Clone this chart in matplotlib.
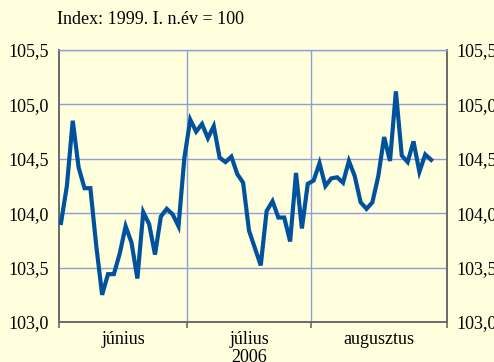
import numpy as np
from matplotlib import pyplot as plt

# daily index values, June-August 2006 (business days)
jun = [103.91, 104.25, 104.85, 104.42, 104.23, 104.23, 103.70, 103.25, 103.44, 103.44,
       103.63, 103.88, 103.73, 103.40, 104.01, 103.90, 103.62, 103.97, 104.04, 103.99,
       103.88, 104.51]
jul = [104.86, 104.75, 104.82, 104.69, 104.80, 104.51, 104.47, 104.52, 104.36, 104.28,
       103.84, 103.68, 103.52, 104.02, 104.11, 103.96, 103.96, 103.74, 104.37, 103.86,
       104.27]
aug = [104.30, 104.46, 104.25, 104.32, 104.33, 104.28, 104.48, 104.34, 104.10, 104.04,
       104.10, 104.34, 104.70, 104.48, 105.12, 104.53, 104.47, 104.66, 104.38, 104.54,
       104.49]
months = ["június", "július", "augusztus"]
year = "2006"
yticks = [103.0, 103.5, 104.0, 104.5, 105.0, 105.5]
ytick_labels = ["103,0", "103,5", "104,0", "104,5", "105,0", "105,5"]

values = np.array(jun + jul + aug)
x = np.arange(len(values))
bounds = [-0.34, len(jun) - 0.5, len(jun) + len(jul) - 0.5, 65.7]

bg = "#ffffde"
grid_c = "#8e9fd6"
axis_c = "#6a6a6a"
fs = 13
plt.rcParams['font.family'] = ['Liberation Serif', 'DejaVu Serif']

fig = plt.figure(figsize=(4.94, 3.62), dpi=100, facecolor=bg)
ax = fig.add_axes([59/494, 1 - 322/362, (447 - 59)/494, (322 - 50)/362])
ax.set_facecolor(bg)

for yv in yticks[1:]:
    ax.axhline(yv, color=grid_c, lw=1.0, zorder=1)
for b in bounds[1:3]:
    ax.axvline(b, color=grid_c, lw=1.0, zorder=1)

ax.plot(x, values, color="#00529c", lw=3.0, solid_joinstyle="miter", zorder=3)

ax.set_xlim(bounds[0], bounds[-1])
ax.set_ylim(103.0, 105.5)
ax.set_yticks(yticks)
ax.set_yticklabels(ytick_labels)
ax.tick_params(axis="y", length=0, pad=7, labelsize=fs, labelright=True, right=False)
ax.set_xticks(bounds)
ax.set_xticklabels([])
ax.tick_params(axis="x", length=4, width=1.2, color=axis_c, direction="out")

ax.spines["top"].set_color(grid_c)
ax.spines["top"].set_linewidth(1.0)
for s in ["left", "right", "bottom"]:
    ax.spines[s].set_color(axis_c)
    ax.spines[s].set_linewidth(1.4)

for i, m in enumerate(months):
    ax.text((bounds[i] + bounds[i + 1]) / 2, -17/272, m, transform=ax.get_xaxis_transform(),
            ha="center", va="center", fontsize=fs)
ax.text((bounds[1] + bounds[2]) / 2, -35/272, year, transform=ax.get_xaxis_transform(),
        ha="center", va="center", fontsize=fs)

fig.text(57/494, 1 - 20/362, "Index: 1999. I. n.év = 100", ha="left", va="center", fontsize=fs)

fig.savefig("out.png", dpi=100, facecolor=bg)
